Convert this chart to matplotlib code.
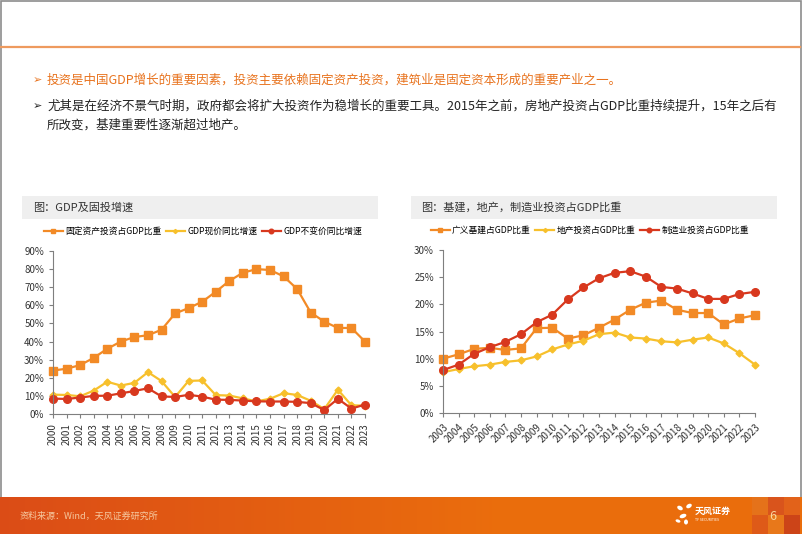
import numpy as np
import matplotlib
matplotlib.use('Agg')
import matplotlib.pyplot as plt
from matplotlib.patches import Rectangle, Ellipse
from matplotlib.ticker import FuncFormatter

plt.rcParams['font.family'] = ['Noto Sans CJK SC', 'DejaVu Sans']

# ---- data: left chart ----
years_l = [str(y) for y in range(2000, 2024)]
fai_gdp = [24, 25, 27, 31, 36, 40, 42.5, 43.5, 46.5, 55.5, 58.5, 62, 67.5, 73.5,
           78, 80, 79.5, 76, 69, 56, 51, 47.5, 47.5, 40]
gdp_nominal = [10.7, 10.5, 9.8, 12.9, 17.8, 15.7, 17.2, 23.1, 18.2, 9.4, 18.3, 18.5,
               10.4, 10.2, 8.6, 7.0, 8.4, 11.5, 10.5, 7.3, 2.7, 13.4, 4.8, 4.6]
gdp_real = [8.5, 8.3, 9.1, 10.0, 10.1, 11.4, 12.7, 14.2, 9.7, 9.4, 10.6, 9.6,
            7.9, 7.8, 7.4, 7.0, 6.9, 6.9, 6.7, 6.0, 2.2, 8.4, 3.0, 5.2]
labels_l = ['固定资产投资占GDP比重', 'GDP现价同比增速', 'GDP不变价同比增速']

# ---- data: right chart ----
years_r = [str(y) for y in range(2003, 2024)]
infra = [10.0, 10.8, 11.8, 12.0, 11.6, 11.9, 15.6, 15.7, 13.7, 14.3, 15.7, 17.2,
         19.0, 20.3, 20.7, 19.0, 18.4, 18.4, 16.3, 17.4, 18.0]
realty = [7.5, 8.1, 8.6, 8.9, 9.4, 9.7, 10.4, 11.7, 12.6, 13.3, 14.5, 14.8,
          13.9, 13.7, 13.2, 13.0, 13.5, 13.9, 12.8, 11.0, 8.9]
manuf = [7.9, 8.9, 10.9, 12.1, 13.1, 14.5, 16.7, 18.1, 20.9, 23.1, 24.8, 25.8,
         26.1, 25.1, 23.2, 22.9, 22.0, 21.0, 21.0, 21.9, 22.3]
labels_r = ['广义基建占GDP比重', '地产投资占GDP比重', '制造业投资占GDP比重']

ORANGE = '#F28A26'
YELLOW = '#F7C02C'
RED = '#D8381E'

W, H = 802, 534
fig = plt.figure(figsize=(W / 100, H / 100), dpi=100)

# background axes in pixel coordinates
bg = fig.add_axes([0, 0, 1, 1])
bg.set_xlim(0, W)
bg.set_ylim(H, 0)
bg.axis('off')

# page frame and header line
bg.add_patch(Rectangle((0.5, 0.5), W - 1.5, H - 1, fill=False, ec='#8c8c8c', lw=1.2))
bg.plot([1, W - 2], [47, 47], color='#EE9A5E', lw=1.6)

# bullets
bg.text(33, 80, '➢', fontsize=8, color='#E8731E', va='center', family=['DejaVu Sans'])
bg.text(47, 80, '投资是中国GDP增长的重要因素，投资主要依赖固定资产投资，建筑业是固定资本形成的重要产业之一。',
        fontsize=9, color='#E8731E', va='center')
bg.text(33, 106, '➢', fontsize=8, color='#222222', va='center', family=['DejaVu Sans'])
bg.text(47, 106, '尤其是在经济不景气时期，政府都会将扩大投资作为稳增长的重要工具。2015年之前，房地产投资占GDP比重持续提升，15年之后有',
        fontsize=9, color='#222222', va='center')
bg.text(47, 125, '所改变，基建重要性逐渐超过地产。', fontsize=9, color='#222222', va='center')

# chart title boxes
bg.add_patch(Rectangle((22, 196), 356, 23, color='#EFEFEF', lw=0))
bg.text(33, 207.5, '图：GDP及固投增速', fontsize=8, color='#333333', va='center')
bg.add_patch(Rectangle((411, 196), 366, 23, color='#EFEFEF', lw=0))
bg.text(421, 207.5, '图：基建，地产，制造业投资占GDP比重', fontsize=8, color='#333333', va='center')

# footer band with gradient
grad = np.linspace(0, 1, 256)
c0 = np.array([0.86, 0.30, 0.09])
c1 = np.array([0.92, 0.43, 0.05])
img = np.array([c0 + (c1 - c0) * min(1, g * 1.6) for g in grad])[None, :, :]
bg.imshow(img, extent=[0, W, H, 497], aspect='auto', zorder=1)
for x0, col in [(752, '#E5721A'), (768, '#D9541C'), (784, '#E2621A')]:
    bg.add_patch(Rectangle((x0, 497), 16, 18, color=col, lw=0, zorder=2))
for x0, col in [(752, '#DE5A18'), (768, '#E8781A'), (784, '#CC4418')]:
    bg.add_patch(Rectangle((x0, 515), 16, 19, color=col, lw=0, zorder=2))
bg.set_xlim(0, W)
bg.set_ylim(H, 0)
bg.text(20, 516, '资料来源：Wind，天风证券研究所', fontsize=6.5, color='#F6C9A0', va='center', zorder=3)
bg.text(773, 516, '6', fontsize=9, color='#F8D9A0', va='center', ha='center', zorder=3)
# logo
for (cx, cy, w, h, a) in [(680, 508, 6, 4, 30), (689, 506, 6, 4, -30), (683, 516, 7, 4, -20),
                          (678, 521, 5, 3, 20), (686, 522, 4, 5, 0)]:
    bg.add_patch(Ellipse((cx, cy), w, h, angle=a, color='white', lw=0, zorder=3))
bg.text(695, 511, '天风证券', fontsize=6.5, color='white', va='center', zorder=3, fontweight='bold')
bg.text(695, 520, 'TF SECURITIES', fontsize=2.5, color='white', va='center', zorder=3)


def pix_axes(x0, x1, ytop, ybot):
    return fig.add_axes([x0 / W, (H - ybot) / H, (x1 - x0) / W, (ybot - ytop) / H])


def style(ax):
    for s in ['top', 'right']:
        ax.spines[s].set_visible(False)
    for s in ['left', 'bottom']:
        ax.spines[s].set_color('#7f7f7f')
        ax.spines[s].set_linewidth(0.8)
    ax.tick_params(axis='both', colors='#7f7f7f', labelcolor='#333333', labelsize=7,
                   length=3, width=0.8, direction='out')
    ax.yaxis.set_major_formatter(FuncFormatter(lambda v, p: f'{v:.0f}%'))
    ax.patch.set_alpha(0)


legend_kw = dict(loc='center', ncol=3, frameon=False, fontsize=6.3, markerscale=0.6,
                 handlelength=2.2, handletextpad=0.25, columnspacing=0.5, borderaxespad=0)

# ---- left chart ----
axl = pix_axes(53, 365, 251, 414)
xl = np.arange(len(years_l))
axl.plot(xl, fai_gdp, color=ORANGE, lw=1.6, marker='s', ms=5.5, label=labels_l[0], clip_on=False)
axl.plot(xl, gdp_nominal, color=YELLOW, lw=1.6, marker='D', ms=3.5, label=labels_l[1], clip_on=False)
axl.plot(xl, gdp_real, color=RED, lw=1.6, marker='o', ms=5.5, label=labels_l[2], clip_on=False)
axl.set_xlim(0, len(years_l) - 1)
axl.set_ylim(0, 90)
axl.set_yticks(range(0, 91, 10))
axl.set_xticks(xl)
axl.set_xticklabels(years_l, rotation=90)
style(axl)
axl.legend(bbox_to_anchor=(0.48, 1.12), **legend_kw)

# ---- right chart ----
axr = pix_axes(443, 755, 250, 413)
xr = np.arange(len(years_r))
axr.plot(xr, infra, color=ORANGE, lw=1.6, marker='s', ms=5.5, label=labels_r[0], clip_on=False)
axr.plot(xr, realty, color=YELLOW, lw=1.6, marker='D', ms=3.5, label=labels_r[1], clip_on=False)
axr.plot(xr, manuf, color=RED, lw=1.6, marker='o', ms=5.5, label=labels_r[2], clip_on=False)
axr.set_xlim(0, len(years_r) - 1)
axr.set_ylim(0, 30)
axr.set_yticks(range(0, 31, 5))
axr.set_xticks(xr)
axr.set_xticklabels(years_r, rotation=45, ha='right', rotation_mode='anchor')
style(axr)
axr.legend(bbox_to_anchor=(0.47, 1.12), **legend_kw)

fig.savefig('out.png', dpi=100)
